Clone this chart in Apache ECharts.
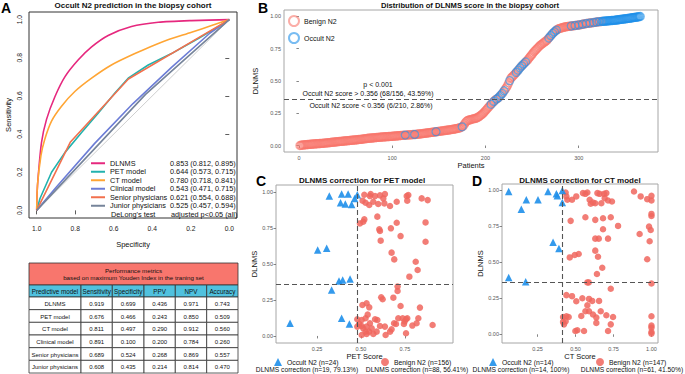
<!DOCTYPE html>
<html>
<head>
<meta charset="utf-8">
<script src="https://cdn.jsdelivr.net/npm/echarts@6/dist/echarts.min.js"></script>
<style>
  html, body { margin: 0; padding: 0; background: #fff; }
  #chart { width: 685px; height: 374px; }
</style>
</head>
<body>
<div id="chart"></div>
<script>
const FONT = '"Liberation Sans", Arial, Helvetica, sans-serif'

// ---------- A: ROC curves, points are [specificity, sensitivity]
const rocNames = ['DLNMS', 'PET model', 'CT model', 'Clinical model', 'Senior physicians', 'Junior physicians']
const rocAuc = ['0.853 (0.812, 0.895)', '0.644 (0.573, 0.715)', '0.780 (0.718, 0.841)',
  '0.543 (0.471, 0.715)', '0.621 (0.554, 0.688)', '0.525 (0.457, 0.594)']
const rocColors = ['#E6287E', '#22B2AE', '#FFA534', '#6C7DD6', '#F2704E', '#76849A']
const rocDlnms = [[1, 0], [0.998, 0.09], [0.992, 0.183], [0.975, 0.356], [0.949, 0.477], [0.905, 0.597],
  [0.853, 0.701], [0.785, 0.788], [0.715, 0.857], [0.629, 0.917], [0.508, 0.964], [0.369, 0.986],
  [0.196, 0.995], [0, 1]]
const rocPet = [[1, 0], [0.983, 0.062], [0.923, 0.2], [0.853, 0.304], [0.767, 0.408], [0.68, 0.511],
  [0.594, 0.615], [0.525, 0.693], [0.421, 0.762], [0.3, 0.822], [0.161, 0.901], [0.074, 0.953], [0, 1]]
const rocCt = [[1, 0], [0.996, 0.131], [0.978, 0.287], [0.958, 0.373], [0.923, 0.468], [0.871, 0.546],
  [0.802, 0.623], [0.715, 0.693], [0.612, 0.762], [0.49, 0.822], [0.352, 0.882], [0.196, 0.934],
  [0.092, 0.969], [0, 1]]
const rocClinical = [[1, 0], [0.9, 0.12], [0.7, 0.35], [0.5, 0.56], [0.3, 0.75], [0.1, 0.93], [0, 1]]
const rocSenior = [[1, 0], [0.826, 0.357], [0.524, 0.689], [0, 1]]
const rocJunior = [[1, 0], [0.435, 0.608], [0, 1]]
const rocCurves = [rocDlnms, rocPet, rocCt, rocClinical, rocSenior, rocJunior]
const rocSmooth = [0.25, 0, 0.25, 0, 0, 0]
const refDiagonal = [[1, 0], [0, 1]]
const unitTicks = [0, 0.2, 0.4, 0.6, 0.8, 1]

// ---------- table under A
const tableTitle = ['Performance metrics', 'based on maximum Youden Index in the traning set']
const tableHead = ['Predictive model', 'Sensitivity', 'Specificity', 'PPV', 'NPV', 'Accuracy']
const tableRows = [
  ['DLNMS', '0.919', '0.699', '0.436', '0.971', '0.743'],
  ['PET model', '0.676', '0.466', '0.243', '0.850', '0.509'],
  ['CT model', '0.811', '0.497', '0.290', '0.912', '0.560'],
  ['Clinical model', '0.891', '0.100', '0.200', '0.784', '0.260'],
  ['Senior physicians', '0.689', '0.524', '0.268', '0.869', '0.557'],
  ['Junior physicians', '0.608', '0.435', '0.214', '0.814', '0.470'],
]

// ---------- B: DLNMS score per patient (sorted), patients 1..366
const dlnmsScores = [
  0.000, 0.002, 0.003, 0.004, 0.005, 0.006, 0.006, 0.007, 0.008, 0.008,
  0.009, 0.010, 0.010, 0.011, 0.012, 0.012, 0.013, 0.014, 0.014, 0.015,
  0.015, 0.016, 0.016, 0.017, 0.017, 0.018, 0.019, 0.019, 0.020, 0.021,
  0.022, 0.022, 0.023, 0.024, 0.025, 0.025, 0.026, 0.027, 0.028, 0.029,
  0.029, 0.030, 0.031, 0.032, 0.032, 0.033, 0.034, 0.035, 0.035, 0.036,
  0.037, 0.038, 0.038, 0.039, 0.040, 0.041, 0.041, 0.042, 0.043, 0.044,
  0.044, 0.045, 0.046, 0.047, 0.048, 0.048, 0.049, 0.050, 0.051, 0.052,
  0.053, 0.054, 0.055, 0.056, 0.057, 0.057, 0.058, 0.059, 0.059, 0.060,
  0.061, 0.061, 0.062, 0.063, 0.063, 0.064, 0.065, 0.065, 0.066, 0.067,
  0.067, 0.068, 0.068, 0.069, 0.069, 0.070, 0.070, 0.071, 0.071, 0.072,
  0.073, 0.073, 0.074, 0.075, 0.075, 0.076, 0.077, 0.077, 0.078, 0.079,
  0.079, 0.080, 0.080, 0.081, 0.081, 0.082, 0.082, 0.083, 0.083, 0.084,
  0.084, 0.085, 0.085, 0.086, 0.086, 0.087, 0.088, 0.089, 0.089, 0.090,
  0.091, 0.092, 0.093, 0.094, 0.095, 0.096, 0.097, 0.098, 0.099, 0.100,
  0.101, 0.102, 0.103, 0.104, 0.105, 0.106, 0.107, 0.108, 0.109, 0.110,
  0.111, 0.112, 0.113, 0.114, 0.115, 0.116, 0.117, 0.118, 0.119, 0.120,
  0.121, 0.122, 0.123, 0.125, 0.126, 0.127, 0.128, 0.130, 0.131, 0.133,
  0.135, 0.137, 0.139, 0.142, 0.145, 0.150, 0.160, 0.172, 0.183, 0.190,
  0.194, 0.197, 0.199, 0.201, 0.203, 0.205, 0.207, 0.209, 0.210, 0.212,
  0.215, 0.219, 0.224, 0.229, 0.234, 0.240, 0.246, 0.253, 0.261, 0.270,
  0.278, 0.287, 0.295, 0.303, 0.312, 0.320, 0.328, 0.335, 0.342, 0.350,
  0.357, 0.360, 0.364, 0.371, 0.379, 0.387, 0.395, 0.403, 0.413, 0.424,
  0.434, 0.445, 0.455, 0.470, 0.486, 0.503, 0.520, 0.528, 0.535, 0.543,
  0.550, 0.558, 0.567, 0.575, 0.584, 0.593, 0.601, 0.610, 0.617, 0.625,
  0.632, 0.639, 0.647, 0.654, 0.661, 0.670, 0.680, 0.689, 0.698, 0.707,
  0.716, 0.726, 0.733, 0.741, 0.748, 0.756, 0.763, 0.771, 0.778, 0.783,
  0.789, 0.794, 0.800, 0.805, 0.811, 0.816, 0.825, 0.833, 0.842, 0.851,
  0.859, 0.868, 0.875, 0.881, 0.888, 0.894, 0.900, 0.903, 0.906, 0.908,
  0.910, 0.912, 0.914, 0.916, 0.918, 0.920, 0.921, 0.922, 0.923, 0.924,
  0.925, 0.926, 0.927, 0.928, 0.929, 0.930, 0.931, 0.932, 0.933, 0.934,
  0.935, 0.936, 0.938, 0.940, 0.941, 0.942, 0.944, 0.945, 0.946, 0.947,
  0.948, 0.949, 0.950, 0.951, 0.952, 0.953, 0.954, 0.955, 0.957, 0.958,
  0.959, 0.960, 0.960, 0.961, 0.962, 0.963, 0.963, 0.964, 0.965, 0.965,
  0.966, 0.967, 0.967, 0.968, 0.969, 0.969, 0.970, 0.970, 0.971, 0.972,
  0.973, 0.974, 0.975, 0.976, 0.977, 0.978, 0.979, 0.980, 0.981, 0.982,
  0.983, 0.984, 0.985, 0.986, 0.987, 0.988, 0.990, 0.991, 0.992, 0.993,
  0.994, 0.995, 0.996, 0.997, 0.999, 1.000,
]
// patient numbers with occult N2
const occultPatients = [114, 124, 147, 175, 206, 209,
  212, 214, 216, 218, 220, 226, 233, 235, 237, 239, 241, 243,
  268, 270, 272, 274, 276, 292, 296, 300, 304, 308, 312, 316, 319, 322,
  325, 326, 327, 328, 329, 330, 331, 332, 333, 334, 335, 336, 337, 338,
  339, 340, 341, 342, 343, 344, 345, 346, 347, 348, 349, 350, 351, 352,
  353, 354, 355, 356, 357, 358, 359, 360, 361, 362, 363, 364, 365, 366]
const cutoff = 0.356
const patientTicks = [0, 100, 200, 300]
const quarterTicks = [0, 0.25, 0.5, 0.75, 1]

// ---------- C: [PET score, DLNMS]
const petCut = 0.476
const petOccult = [[0.32, 0.972], [0.39, 0.986], [0.427, 0.986], [0.479, 0.981], [0.464, 0.956],
  [0.384, 0.926], [0.411, 0.917], [0.447, 0.914], [0.254, 0.597], [0.305, 0.609], [0.375, 0.382],
  [0.396, 0.389], [0.438, 0.396], [0.333, 0.319], [0.39, 0.123], [0.434, 0.083], [0.097, 0.088]]
const petBenign = [
  [0.519, 0.981], [0.555, 0.986], [0.58, 0.972], [0.608, 0.977], [0.636, 0.986], [0.627, 0.956],
  [0.633, 0.921], [0.665, 0.903], [0.703, 0.933], [0.76, 0.972], [0.769, 0.979], [0.763, 0.94],
  [0.845, 0.956], [0.879, 0.944], [0.509, 0.94], [0.526, 0.926], [0.547, 0.91], [0.57, 0.933],
  [0.598, 0.917], [0.551, 0.972],
  [0.494, 0.782], [0.519, 0.81], [0.513, 0.794], [0.593, 0.829], [0.604, 0.741], [0.608, 0.729],
  [0.612, 0.662], [0.67, 0.748], [0.703, 0.787], [0.725, 0.694], [0.867, 0.789], [0.867, 0.655],
  [0.674, 0.579], [0.689, 0.532], [0.811, 0.516], [0.822, 0.458], [0.775, 0.412], [0.708, 0.343],
  [0.708, 0.312],
  [0.508, 0.215], [0.532, 0.227], [0.547, 0.199], [0.538, 0.148], [0.526, 0.123], [0.504, 0.111],
  [0.479, 0.116], [0.49, 0.083], [0.504, 0.069], [0.513, 0.053], [0.532, 0.065], [0.561, 0.053],
  [0.546, 0.03], [0.504, 0.007], [0.532, 0.014], [0.58, 0.116], [0.593, 0.111], [0.608, 0.069],
  [0.636, 0.065], [0.64, 0.007], [0.665, 0.03], [0.615, 0.269], [0.623, 0.255], [0.684, 0.266],
  [0.725, 0.208], [0.688, 0.088], [0.699, 0.083], [0.712, 0.123], [0.737, 0.123], [0.748, 0.1],
  [0.756, 0.116], [0.744, 0.083], [0.763, 0.123], [0.792, 0.072], [0.816, 0.088], [0.826, 0.123],
  [0.835, 0.197], [0.907, 0.076], [0.756, 0.019], [0.674, 0.046], [0.589, 0.03], [0.57, 0.014],
  [0.526, 0.03], [0.479, 0.065], [0.551, 0.088]]

// ---------- D: [CT score, DLNMS]
const ctCut = 0.414
const ctOccult = [[0.06, 0.988], [0.319, 0.988], [0.374, 0.972], [0.38, 0.958], [0.413, 0.995],
  [0.413, 0.912], [0.176, 0.931], [0.253, 0.931], [0.143, 0.866], [0.352, 0.637], [0.391, 0.593],
  [0.06, 0.394], [0.172, 0.363]]
const ctBenign = [
  [0.435, 0.981], [0.44, 0.954], [0.446, 0.931], [0.477, 0.931], [0.505, 0.954], [0.549, 0.977],
  [0.565, 0.972], [0.578, 0.981], [0.593, 0.931], [0.6, 0.903], [0.615, 0.912], [0.63, 0.907],
  [0.644, 0.977], [0.659, 0.972], [0.67, 0.907], [0.688, 0.972], [0.692, 0.942], [0.703, 0.977],
  [0.714, 0.926], [0.74, 0.919], [0.885, 0.988], [0.929, 0.954], [0.972, 0.935], [1, 0.958],
  [1, 0.926],
  [0.468, 0.785], [0.565, 0.81], [0.63, 0.792], [0.681, 0.803], [0.732, 0.81], [0.78, 0.75],
  [0.922, 0.694], [0.984, 0.745], [0.995, 0.722], [1, 0.819], [1, 0.833], [0.681, 0.727],
  [0.63, 0.662], [0.653, 0.662], [0.714, 0.662], [0.63, 0.579], [0.521, 0.556], [0.495, 0.549],
  [0.462, 0.532], [0.648, 0.537], [0.988, 0.644], [0.972, 0.519], [0.676, 0.461], [0.641, 0.417],
  [0.578, 0.359], [0.587, 0.359], [1, 0.352], [0.732, 0.315],
  [0.44, 0.271], [0.477, 0.264], [0.505, 0.229], [0.545, 0.25], [0.589, 0.245], [0.61, 0.231],
  [0.655, 0.231], [0.578, 0.201], [0.565, 0.16], [0.589, 0.16], [0.538, 0.127], [0.615, 0.137],
  [0.637, 0.116], [0.666, 0.16], [0.703, 0.132], [0.747, 0.12], [0.418, 0.12], [0.44, 0.125],
  [0.455, 0.12], [0.418, 0.086], [0.435, 0.09], [0.424, 0.069], [0.732, 0.069], [0.637, 0.079],
  [0.512, 0.028], [0.499, 0.023], [0.556, 0.023], [0.714, 0.023], [1, 0.125], [1, 0.06],
  [1, 0.046], [1, 0.016], [1, 0.005]]

const RED = '#F8766D'
const BLUE = '#1E8FEA'

// ---------- helpers
function axis(gridIndex, min, max, ticks, digits, opts) {
  opts = opts || {}
  return {
    type: 'value', gridIndex, min, max, inverse: !!opts.inverse,
    name: opts.name || '', nameLocation: 'middle', nameGap: opts.nameGap || 10,
    nameTextStyle: { fontFamily: FONT, fontSize: opts.nameSize || 7.5, color: '#111' },
    axisLine: { show: false },
    axisTick: { show: true, customValues: ticks, length: opts.tickLen || 2.5, inside: false,
      lineStyle: { color: opts.tickColor || '#666', width: 0.8 } },
    axisLabel: { customValues: ticks, formatter: v => v.toFixed(digits), rotate: opts.rotate || 0,
      fontFamily: FONT, fontSize: opts.labelSize || 5.5, color: opts.labelColor || '#555',
      margin: opts.margin || 3 },
    splitLine: { show: false },
  }
}

function cellText(text, x, y, size, align) {
  return { type: 'text', x, y, z: 20, silent: true,
    style: { text, fontFamily: FONT, fontSize: size, fill: '#111', align: align || 'center', verticalAlign: 'middle' } }
}

function tableGraphics() {
  const x0 = 29, y0 = 263, titleH = 22, headH = 12, rowH = 12.67
  const colW = [52, 31.3, 31.7, 31.3, 31.4, 31.3]
  const W = colW.reduce((a, b) => a + b, 0)
  const out = []
  out.push({ type: 'rect', z: 19, silent: true, shape: { x: x0, y: y0, width: W, height: titleH },
    style: { fill: '#F8766D', stroke: '#333', lineWidth: 0.8 } })
  tableTitle.forEach((t, i) => out.push(cellText(t, x0 + W / 2, y0 + 7.5 + i * 7, 6.2)))
  const rows = [tableHead].concat(tableRows)
  let y = y0 + titleH
  rows.forEach((row, r) => {
    const h = r === 0 ? headH : rowH
    let x = x0
    row.forEach((cell, c) => {
      out.push({ type: 'rect', z: 19, silent: true, shape: { x, y, width: colW[c], height: h },
        style: { fill: r === 0 ? '#50C1DE' : '#fff', stroke: '#333', lineWidth: 0.8 } })
      out.push(cellText(cell, x + colW[c] / 2, y + h / 2 + 0.5, r === 0 ? 6.3 : 6))
      x += colW[c]
    })
    y += h
  })
  return out
}

function scatterSeries(name, data, xi, symbol, size, color, extra) {
  return Object.assign({
    name, type: 'scatter', xAxisIndex: xi, yAxisIndex: xi, data, symbol, symbolSize: size,
    itemStyle: { color, opacity: 0.9 },
  }, extra || {})
}

function dashedLines(items) {
  return { silent: true, symbol: ['none', 'none'], label: { show: false },
    lineStyle: { color: '#555', type: [5, 3], width: 1.1 }, emphasis: { disabled: true }, data: items }
}

// ---------- build
const occultSet = new Set(occultPatients)
const benignPts = [], occultPts = []
dlnmsScores.forEach((v, i) => (occultSet.has(i + 1) ? occultPts : benignPts).push([i + 1, v]))

const series = []
series.push({ type: 'line', xAxisIndex: 0, yAxisIndex: 0, data: refDiagonal, symbol: 'none', silent: true,
  lineStyle: { color: '#cfcfcf', width: 1 } })
rocCurves.forEach((d, i) => series.push({
  name: rocNames[i], type: 'line', xAxisIndex: 0, yAxisIndex: 0, data: d, symbol: 'none',
  smooth: rocSmooth[i], lineStyle: { color: rocColors[i], width: 1.6 }, itemStyle: { color: rocColors[i] },
}))
const hollow = c => ({ color: 'rgba(255,255,255,0)', borderColor: c, borderWidth: 1.3, opacity: 0.6 })
series.push(scatterSeries('Benign N2', benignPts, 1, 'circle', 8, RED,
  { itemStyle: hollow(RED), markLine: dashedLines([{ yAxis: cutoff }]) }))
series.push(scatterSeries('Occult N2', occultPts, 1, 'circle', 8, BLUE, { itemStyle: hollow(BLUE) }))
series.push(scatterSeries('Benign N2 (n=156)', petBenign, 2, 'circle', 6.5, '#F0665E',
  { itemStyle: { color: '#F0665E', opacity: 0.85 }, markLine: dashedLines([{ xAxis: petCut }, { yAxis: cutoff }]) }))
series.push(scatterSeries('Occult N2 (n=24)', petOccult, 2, 'triangle', 7.5, BLUE))
series.push(scatterSeries('Benign N2 (n=147)', ctBenign, 3, 'circle', 6.5, '#F0665E',
  { itemStyle: { color: '#F0665E', opacity: 0.85 }, markLine: dashedLines([{ xAxis: ctCut }, { yAxis: cutoff }]) }))
series.push(scatterSeries('Occult N2 (n=14)', ctOccult, 3, 'triangle', 7.5, BLUE))

const legendText = { fontFamily: FONT, fontSize: 7.3, color: '#111' }
const smallLegend = (name, left, icon) => ({
  data: [name], left, top: 358, icon, itemWidth: 8, itemHeight: 8, itemGap: 4, padding: 0,
  textStyle: { fontFamily: FONT, fontSize: 6.8, color: '#111' }, selectedMode: false,
})

const aucByName = {}
rocNames.forEach((n, i) => (aucByName[n] = rocAuc[i]))

const letter = (t, x, y) => ({ type: 'text', x, y, z: 20, silent: true,
  style: { text: t, fontFamily: FONT, fontSize: 14, fontWeight: 'bold', fill: '#000' } })

const graphic = [
  { type: 'rect', z: 3, silent: true, shape: { x: 88, y: 157, width: 148, height: 60 }, style: { fill: '#fff' } },
  cellText("DeLong's test", 111, 214, 7.3, 'left'),
  cellText('adjusted p<0.05 (all)', 171, 214, 7.3, 'left'),
  letter('A', 1, 1), letter('B', 258, 1), letter('C', 256, 174), letter('D', 472, 174),
  cellText('p < 0.001', 378, 84.5, 7),
  cellText('Occult N2 score > 0.356 (68/156, 43.59%)', 368, 93, 7),
  cellText('Occult N2 score < 0.356 (6/210, 2.86%)', 371, 105.5, 7),
  cellText('DLNMS correction (n=19, 79.13%)', 307, 369.5, 6.7),
  cellText('DLNMS correction (n=88, 56.41%)', 417, 369.5, 6.7),
  cellText('DLNMS correction (n=14, 100%)', 521, 369.5, 6.7),
  cellText('DLNMS correction (n=61, 41.50%)', 632, 369.5, 6.7),
].concat(tableGraphics())

const titleStyle = { fontFamily: FONT, fontSize: 8, fontWeight: 'bold', color: '#111' }

const chart = echarts.init(document.getElementById('chart'), null, { renderer: 'svg' })
chart.setOption({
  animation: false,
  backgroundColor: '#fff',
  textStyle: { fontFamily: FONT },
  title: [
    { text: 'Occult N2 prediction in the biopsy cohort', left: 133, top: 1, textAlign: 'center', padding: 0, textStyle: titleStyle },
    { text: 'Distribution of DLNMS score in the biopsy cohort', left: 470, top: 1, textAlign: 'center', padding: 0, textStyle: Object.assign({}, titleStyle, { fontSize: 7.6 }) },
    { text: 'DLNMS correction for PET model', left: 362, top: 176.5, textAlign: 'center', padding: 0, textStyle: titleStyle },
    { text: 'DLNMS correction for CT model', left: 580, top: 176.5, textAlign: 'center', padding: 0, textStyle: titleStyle },
  ],
  grid: [
    { left: 29, top: 12, width: 208, height: 206, show: true, borderColor: '#333', borderWidth: 1, backgroundColor: 'transparent', containLabel: false, outerBoundsMode: 'none' },
    { left: 284, top: 10, width: 374, height: 142, show: true, borderColor: '#a6a6a6', borderWidth: 1, backgroundColor: 'transparent', containLabel: false, outerBoundsMode: 'none' },
    { left: 276, top: 185, width: 177, height: 158, show: true, borderColor: '#a6a6a6', borderWidth: 1, backgroundColor: 'transparent', containLabel: false, outerBoundsMode: 'none' },
    { left: 502, top: 184, width: 156, height: 159, show: true, borderColor: '#a6a6a6', borderWidth: 1, backgroundColor: 'transparent', containLabel: false, outerBoundsMode: 'none' },
  ],
  xAxis: [
    axis(0, -0.04, 1.04, unitTicks, 1, { inverse: true, name: 'Specificity', nameGap: 22, labelSize: 6.7, labelColor: '#222', tickLen: 4, tickColor: '#333', margin: 7 }),
    axis(1, -16, 385, patientTicks, 0, { name: 'Patients', nameGap: 8 }),
    axis(2, 0.017, 1.023, [0.25, 0.5, 0.75], 2, { name: 'PET Score', nameGap: 7 }),
    axis(3, 0.016, 1.043, [0.25, 0.5, 0.75, 1], 2, { name: 'CT Score', nameGap: 7 }),
  ],
  yAxis: [
    axis(0, -0.04, 1.04, unitTicks, 1, { rotate: 90, name: 'Sensitivity', nameGap: 17, labelSize: 6.7, labelColor: '#222', tickLen: 4, tickColor: '#333', margin: 6 }),
    axis(1, -0.05, 1.05, quarterTicks, 2, { name: 'DLNMS', nameGap: 16 }),
    axis(2, -0.049, 1.049, quarterTicks, 2, { name: 'DLNMS', nameGap: 12 }),
    axis(3, -0.06, 1.04, quarterTicks, 2, { name: 'DLNMS', nameGap: 14 }),
  ],
  legend: [
    {
      data: rocNames, orient: 'vertical', left: 91, top: 159, icon: 'rect', itemWidth: 14, itemHeight: 2,
      itemGap: 0, padding: 0, selectedMode: false,
      formatter: n => `{n|${n}}{v|${aucByName[n]}}`,
      textStyle: Object.assign({}, legendText, { lineHeight: 8.5,
        rich: { n: Object.assign({ width: 60, lineHeight: 8.5 }, legendText), v: Object.assign({ lineHeight: 8.5 }, legendText) } }),
    },
    {
      data: ['Benign N2', 'Occult N2'], orient: 'vertical', left: 288, top: 15, icon: 'circle',
      itemWidth: 10, itemHeight: 10, itemGap: 5, padding: 0, selectedMode: false,
      textStyle: { fontFamily: FONT, fontSize: 7, color: '#111' },
    },
    smallLegend('Occult N2 (n=24)', 274, 'triangle'),
    smallLegend('Benign N2 (n=156)', 381, 'circle'),
    smallLegend('Occult N2 (n=14)', 489, 'triangle'),
    smallLegend('Benign N2 (n=147)', 596, 'circle'),
  ],
  series,
  graphic,
})
</script>
</body>
</html>
